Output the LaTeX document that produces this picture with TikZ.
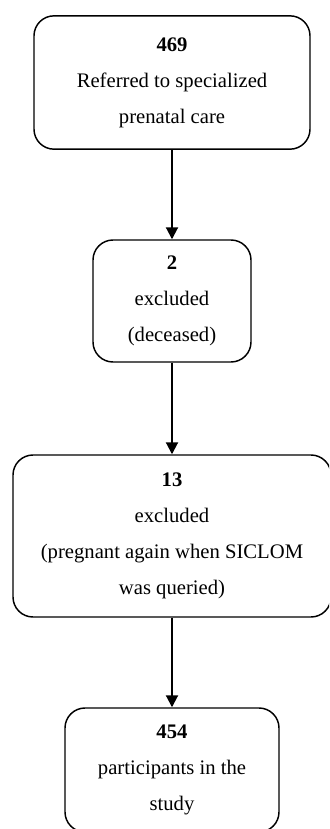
\documentclass[tikz,border=0pt]{standalone}
\usepackage{fontspec}
\setmainfont{Liberation Serif}
\usetikzlibrary{arrows.meta}
\tikzset{
	stagebox/.style={draw, line width=1.1pt, rounded corners=15pt, align=center,
		inner sep=0pt, font=\fontsize{15.5}{27}\selectfont},
	flowarrow/.style={line width=1.5pt, -{Triangle[length=9pt,width=9pt]}}
}

\begin{document}
\begin{tikzpicture}[x=0.75pt, y=-0.75pt]
			%%%%% START %%%%%
			
			\clip (0, 0) rectangle (329, 829);
			\useasboundingbox (0, 0) rectangle (329, 829);
			
			\node[stagebox, minimum width=207pt, minimum height=100pt] (referred) at (172, 82.5)
				{\textbf{469}\\Referred to specialized\\prenatal care};
			\node[stagebox, minimum width=118.5pt, minimum height=91.5pt] (deceased) at (172, 301)
				{\textbf{2}\\excluded\\(deceased)};
			\node[stagebox, minimum width=238.5pt, minimum height=121.5pt] (pregnant) at (172, 536)
				{\textbf{13}\\excluded\\(pregnant again when SICLOM\\was queried)};
			\node[stagebox, minimum width=160.5pt, minimum height=93pt] (study) at (172, 770)
				{\textbf{454}\\participants in the\\study};
			
			\draw[flowarrow] (referred) -- (deceased);
			\draw[flowarrow] (deceased) -- (pregnant);
			\draw[flowarrow] (pregnant) -- (study);
			
			%%%%% END %%%%%
\end{tikzpicture}
\end{document}
